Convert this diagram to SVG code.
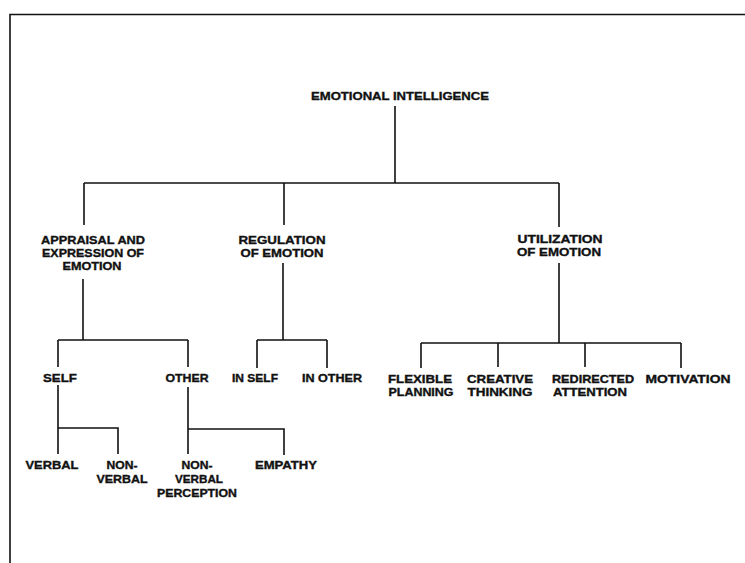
<svg xmlns="http://www.w3.org/2000/svg" width="745" height="563" viewBox="0 0 745 563">
<style>
.t{font-family:"Liberation Sans",Arial,sans-serif;font-weight:bold;font-size:11px;fill:#111;stroke:#111;stroke-width:0.35;text-anchor:middle}
.c{fill:none;stroke:#111;stroke-width:1.6}
</style>
<rect width="745" height="563" fill="#fff"/>
<g id="frame"><path class="c" d="M10,563 V14.5 H745" stroke-width="2"/></g>
<g id="connectors">
<path class="c" d="M395,106 V183 M84,183 H559 M84,183 V225 M284,183 V225 M559,183 V227"/>
<path class="c" d="M83,279 V340 M58,340 H188 M58,340 V367 M188,340 V367"/>
<path class="c" d="M283,263 V340 M257,340 H327 M257,340 V368 M327,340 V368"/>
<path class="c" d="M559,263 V343 M421,343 H681 M421,343 V368 M498,343 V367 M585,343 V367 M681,343 V368"/>
<path class="c" d="M58,385 V454 M58,428 H118 V454"/>
<path class="c" d="M188,387 V454 M188,429 H284 V455"/>
</g>
<g id="emotional-intelligence"><text class="t" x="400" y="99.5" textLength="178" lengthAdjust="spacingAndGlyphs">EMOTIONAL INTELLIGENCE</text></g>
<g id="appraisal"><text class="t" x="93" y="243.5" textLength="104" lengthAdjust="spacingAndGlyphs">APPRAISAL AND</text><text class="t" x="93" y="256.5" textLength="102" lengthAdjust="spacingAndGlyphs">EXPRESSION OF</text><text class="t" x="92" y="269.5" textLength="59" lengthAdjust="spacingAndGlyphs">EMOTION</text></g>
<g id="regulation"><text class="t" x="282" y="243.5" textLength="87" lengthAdjust="spacingAndGlyphs">REGULATION</text><text class="t" x="282" y="256.5" textLength="83" lengthAdjust="spacingAndGlyphs">OF EMOTION</text></g>
<g id="utilization"><text class="t" x="560" y="242.5" textLength="85" lengthAdjust="spacingAndGlyphs">UTILIZATION</text><text class="t" x="559" y="255.5" textLength="84" lengthAdjust="spacingAndGlyphs">OF EMOTION</text></g>
<g id="self"><text class="t" x="60" y="381.5" textLength="34" lengthAdjust="spacingAndGlyphs">SELF</text></g>
<g id="other"><text class="t" x="187" y="381.5" textLength="43" lengthAdjust="spacingAndGlyphs">OTHER</text></g>
<g id="in-self"><text class="t" x="255" y="381.5" textLength="46" lengthAdjust="spacingAndGlyphs">IN SELF</text></g>
<g id="in-other"><text class="t" x="332" y="381.5" textLength="60" lengthAdjust="spacingAndGlyphs">IN OTHER</text></g>
<g id="flexible-planning"><text class="t" x="420" y="382.5" textLength="64" lengthAdjust="spacingAndGlyphs">FLEXIBLE</text><text class="t" x="421" y="395.5" textLength="65" lengthAdjust="spacingAndGlyphs">PLANNING</text></g>
<g id="creative-thinking"><text class="t" x="500" y="382.5" textLength="66" lengthAdjust="spacingAndGlyphs">CREATIVE</text><text class="t" x="500" y="395.5" textLength="65" lengthAdjust="spacingAndGlyphs">THINKING</text></g>
<g id="redirected-attention"><text class="t" x="593" y="382.5" textLength="82" lengthAdjust="spacingAndGlyphs">REDIRECTED</text><text class="t" x="590" y="395.5" textLength="74" lengthAdjust="spacingAndGlyphs">ATTENTION</text></g>
<g id="motivation"><text class="t" x="688" y="382.5" textLength="85" lengthAdjust="spacingAndGlyphs">MOTIVATION</text></g>
<g id="verbal"><text class="t" x="52" y="468.5" textLength="53" lengthAdjust="spacingAndGlyphs">VERBAL</text></g>
<g id="non-verbal"><text class="t" x="122" y="468.5" textLength="31" lengthAdjust="spacingAndGlyphs">NON-</text><text class="t" x="122" y="482.5" textLength="51" lengthAdjust="spacingAndGlyphs">VERBAL</text></g>
<g id="non-verbal-perception"><text class="t" x="197" y="468.5" textLength="31" lengthAdjust="spacingAndGlyphs">NON-</text><text class="t" x="199" y="482.5" textLength="48" lengthAdjust="spacingAndGlyphs">VERBAL</text><text class="t" x="197" y="496.5" textLength="80" lengthAdjust="spacingAndGlyphs">PERCEPTION</text></g>
<g id="empathy"><text class="t" x="286" y="468.5" textLength="62" lengthAdjust="spacingAndGlyphs">EMPATHY</text></g>
</svg>
